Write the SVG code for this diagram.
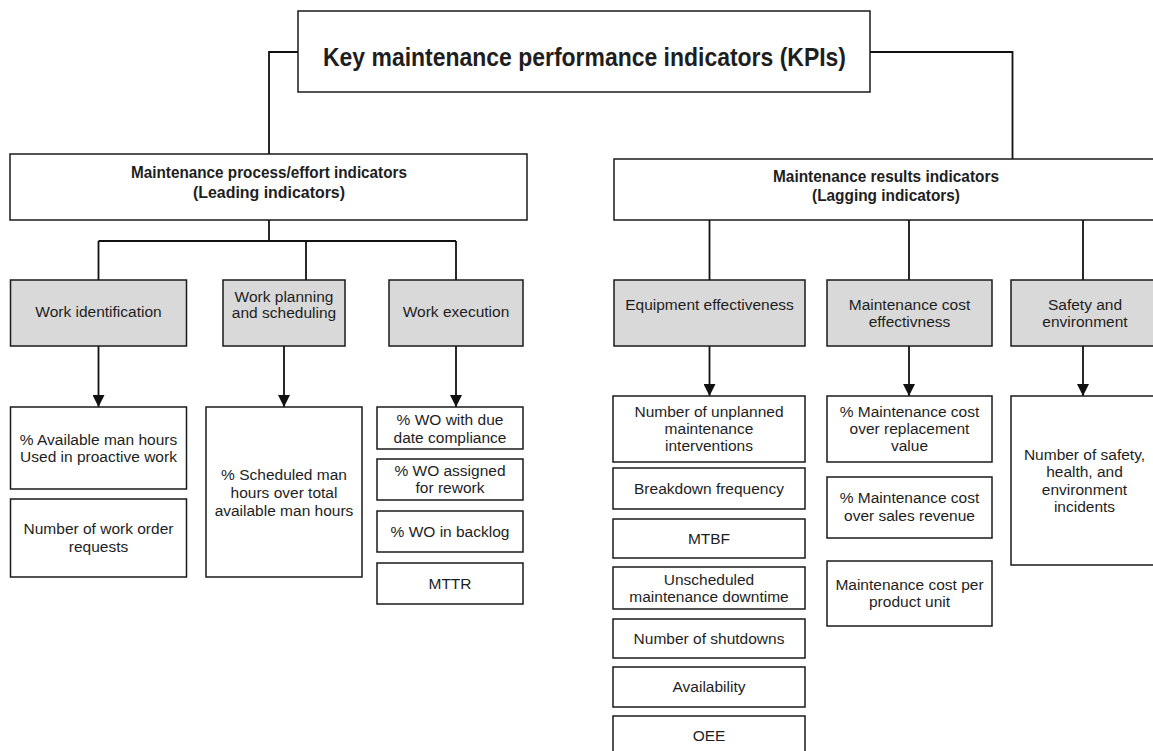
<svg xmlns="http://www.w3.org/2000/svg" width="1153" height="751" viewBox="0 0 1153 751">
  <style>
    .box { fill: #ffffff; stroke: #1a1a1a; stroke-width: 1.5; }
    .cat { fill: #d9d9d9; stroke: #1a1a1a; stroke-width: 1.5; }
    .wire { fill: none; stroke: #111111; stroke-width: 1.8; }
    text { font-family: "Liberation Sans", Arial, sans-serif; fill: #1e1e1e; text-anchor: middle; }
    .t { font-size: 15.5px; }
    .h { font-size: 16.5px; font-weight: bold; }
    .title { font-size: 25px; font-weight: bold; }
  </style>
  <defs>
    <marker id="arrow" viewBox="0 0 12 12" refX="12" refY="6" markerWidth="12" markerHeight="12" markerUnits="userSpaceOnUse" orient="auto">
      <path d="M0,0 L12,6 L0,12 z" fill="#111111"/>
    </marker>
  </defs>
  <rect width="1153" height="751" fill="#ffffff"/>

  <!-- connectors -->
  <g id="connectors">
    <polyline class="wire" points="298,52 269,52 269,154"/>
    <polyline class="wire" points="870,52 1012.5,52 1012.5,159"/>
    <line class="wire" x1="269" y1="220" x2="269" y2="241"/>
    <line class="wire" x1="98.5" y1="241" x2="456" y2="241"/>
    <line class="wire" x1="98.5" y1="241" x2="98.5" y2="280"/>
    <line class="wire" x1="306" y1="241" x2="306" y2="280"/>
    <line class="wire" x1="456" y1="241" x2="456" y2="280"/>
    <line class="wire" x1="709.5" y1="220" x2="709.5" y2="280"/>
    <line class="wire" x1="909" y1="220" x2="909" y2="280"/>
    <line class="wire" x1="1083" y1="220" x2="1083" y2="280"/>
    <line class="wire" x1="98.5" y1="346" x2="98.5" y2="407" marker-end="url(#arrow)"/>
    <line class="wire" x1="284" y1="346" x2="284" y2="407" marker-end="url(#arrow)"/>
    <line class="wire" x1="456" y1="346" x2="456" y2="407" marker-end="url(#arrow)"/>
    <line class="wire" x1="709.5" y1="346" x2="709.5" y2="396" marker-end="url(#arrow)"/>
    <line class="wire" x1="909" y1="346" x2="909" y2="396" marker-end="url(#arrow)"/>
    <line class="wire" x1="1083" y1="346" x2="1083" y2="396" marker-end="url(#arrow)"/>
  </g>

  <!-- root -->
  <g id="kpis">
    <rect class="box" x="298" y="11" width="572" height="81"/>
    <text class="title" x="584.5" y="66" textLength="523" lengthAdjust="spacingAndGlyphs">Key maintenance performance indicators (KPIs)</text>
  </g>

  <!-- second level -->
  <g id="leading">
    <rect class="box" x="10" y="154" width="517" height="66"/>
    <text class="h" x="269" y="178" textLength="276" lengthAdjust="spacingAndGlyphs">Maintenance process/effort indicators</text>
    <text class="h" x="269" y="198" textLength="152" lengthAdjust="spacingAndGlyphs">(Leading indicators)</text>
  </g>
  <g id="lagging">
    <rect class="box" x="614" y="159" width="544" height="61"/>
    <text class="h" x="886" y="182" textLength="226" lengthAdjust="spacingAndGlyphs">Maintenance results indicators</text>
    <text class="h" x="886" y="200.5" textLength="148" lengthAdjust="spacingAndGlyphs">(Lagging indicators)</text>
  </g>

  <!-- categories -->
  <g id="work-identification">
    <rect class="cat" x="10.5" y="280" width="176" height="66"/>
    <text class="t" x="98.5" y="317">Work identification</text>
  </g>
  <g id="work-planning">
    <rect class="cat" x="223" y="280" width="122" height="66"/>
    <text class="t" x="284" y="302">Work planning</text>
    <text class="t" x="284" y="318">and scheduling</text>
  </g>
  <g id="work-execution">
    <rect class="cat" x="389" y="280" width="134" height="66"/>
    <text class="t" x="456" y="317">Work execution</text>
  </g>
  <g id="equipment-effectiveness">
    <rect class="cat" x="614" y="280" width="191" height="66"/>
    <text class="t" x="709.5" y="310">Equipment effectiveness</text>
  </g>
  <g id="cost-effectiveness">
    <rect class="cat" x="827" y="280" width="165" height="66"/>
    <text class="t" x="909.5" y="310">Maintenance cost</text>
    <text class="t" x="909.5" y="327">effectivness</text>
  </g>
  <g id="safety-environment">
    <rect class="cat" x="1011" y="280" width="150" height="66"/>
    <text class="t" x="1085" y="310">Safety and</text>
    <text class="t" x="1085" y="327">environment</text>
  </g>

  <!-- work identification indicators -->
  <g id="available-man-hours">
    <rect class="box" x="10.5" y="407" width="176" height="82"/>
    <text class="t" x="98.5" y="444.5">% Available man hours</text>
    <text class="t" x="98.5" y="462">Used in proactive work</text>
  </g>
  <g id="work-order-requests">
    <rect class="box" x="10.5" y="499" width="176" height="78"/>
    <text class="t" x="98.5" y="534">Number of work order</text>
    <text class="t" x="98.5" y="552">requests</text>
  </g>

  <!-- planning indicators -->
  <g id="scheduled-man-hours">
    <rect class="box" x="206" y="407" width="156" height="170"/>
    <text class="t" x="284" y="480">% Scheduled man</text>
    <text class="t" x="284" y="498">hours over total</text>
    <text class="t" x="284" y="516">available man hours</text>
  </g>

  <!-- execution indicators -->
  <g id="wo-due-date">
    <rect class="box" x="377" y="407" width="146" height="42"/>
    <text class="t" x="450" y="425">% WO with due</text>
    <text class="t" x="450" y="442.5">date compliance</text>
  </g>
  <g id="wo-rework">
    <rect class="box" x="377" y="459" width="146" height="41"/>
    <text class="t" x="450" y="476">% WO assigned</text>
    <text class="t" x="450" y="493">for rework</text>
  </g>
  <g id="wo-backlog">
    <rect class="box" x="377" y="511" width="146" height="41"/>
    <text class="t" x="450" y="537">% WO in backlog</text>
  </g>
  <g id="mttr">
    <rect class="box" x="377" y="563" width="146" height="41"/>
    <text class="t" x="450" y="589">MTTR</text>
  </g>

  <!-- equipment indicators -->
  <g id="unplanned-interventions">
    <rect class="box" x="613" y="396" width="192" height="66"/>
    <text class="t" x="709" y="417">Number of unplanned</text>
    <text class="t" x="709" y="434">maintenance</text>
    <text class="t" x="709" y="451">interventions</text>
  </g>
  <g id="breakdown-frequency">
    <rect class="box" x="613" y="468" width="192" height="41"/>
    <text class="t" x="709" y="494">Breakdown frequency</text>
  </g>
  <g id="mtbf">
    <rect class="box" x="613" y="519" width="192" height="39"/>
    <text class="t" x="709" y="544">MTBF</text>
  </g>
  <g id="unscheduled-downtime">
    <rect class="box" x="613" y="567" width="192" height="42"/>
    <text class="t" x="709" y="584.5">Unscheduled</text>
    <text class="t" x="709" y="602">maintenance downtime</text>
  </g>
  <g id="shutdowns">
    <rect class="box" x="613" y="619" width="192" height="39"/>
    <text class="t" x="709" y="644">Number of shutdowns</text>
  </g>
  <g id="availability">
    <rect class="box" x="613" y="667" width="192" height="40"/>
    <text class="t" x="709" y="692">Availability</text>
  </g>
  <g id="oee">
    <rect class="box" x="613" y="716" width="192" height="44"/>
    <text class="t" x="709" y="741">OEE</text>
  </g>

  <!-- cost indicators -->
  <g id="cost-replacement">
    <rect class="box" x="827" y="396" width="165" height="66"/>
    <text class="t" x="909.5" y="417">% Maintenance cost</text>
    <text class="t" x="909.5" y="434">over replacement</text>
    <text class="t" x="909.5" y="451">value</text>
  </g>
  <g id="cost-sales">
    <rect class="box" x="827" y="477" width="165" height="61"/>
    <text class="t" x="909.5" y="503">% Maintenance cost</text>
    <text class="t" x="909.5" y="521">over sales revenue</text>
  </g>
  <g id="cost-per-unit">
    <rect class="box" x="827" y="561" width="165" height="65"/>
    <text class="t" x="909.5" y="589.5">Maintenance cost per</text>
    <text class="t" x="909.5" y="607">product unit</text>
  </g>

  <!-- safety indicators -->
  <g id="she-incidents">
    <rect class="box" x="1011" y="396" width="150" height="169"/>
    <text class="t" x="1084.5" y="460">Number of safety,</text>
    <text class="t" x="1084.5" y="477">health, and</text>
    <text class="t" x="1084.5" y="494.5">environment</text>
    <text class="t" x="1084.5" y="512">incidents</text>
  </g>
</svg>
